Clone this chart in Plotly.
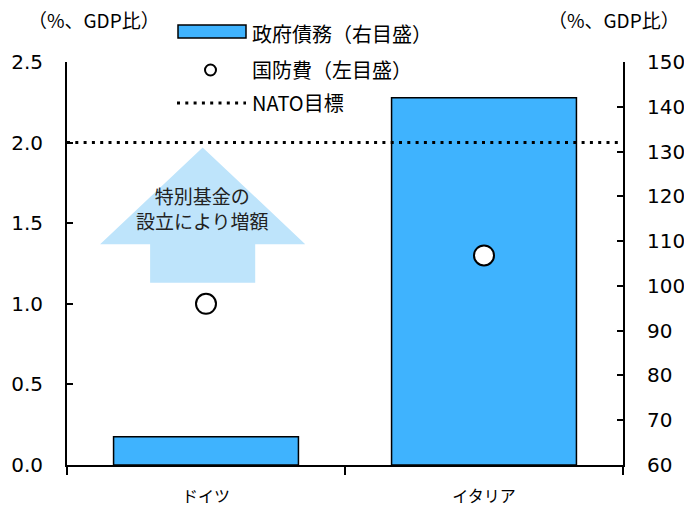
import plotly.graph_objects as go

# Data
countries = ["ドイツ", "イタリア"]
gov_debt = [66.3, 142.0]          # 政府債務 (%, GDP比) — right axis
defense = [1.0, 1.3]              # 国防費 (%, GDP比) — left axis
nato_target = 2.0                 # NATO目標 (%, GDP比)

left_ticks = [0.0, 0.5, 1.0, 1.5, 2.0, 2.5]
right_ticks = [60, 70, 80, 90, 100, 110, 120, 130, 140, 150]

JP = "Noto Sans CJK JP"
NUM = "DejaVu Sans"
BAR_BLUE = "#3FB3FE"
ARROW_BLUE = "#BEE4FB"

xpos = list(range(len(countries)))

fig = go.Figure()

# Government debt bars on the right axis (primary y, drawn underneath)
fig.add_trace(go.Bar(
    x=xpos, y=[d - 60 for d in gov_debt], base=60, width=0.665,
    yaxis="y", marker=dict(color=BAR_BLUE, line=dict(color="black", width=1.5)),
    name="政府債務（右目盛）", showlegend=False,
))

# NATO target line across the plot (left axis)
fig.add_trace(go.Scatter(
    x=[-0.5, 1.5], y=[nato_target, nato_target], mode="lines",
    line=dict(color="black", width=3, dash="3px,5.3px"),
    yaxis="y2", showlegend=False, hoverinfo="skip",
))

# Defense spending markers on the left axis
fig.add_trace(go.Scatter(
    x=xpos, y=defense, mode="markers",
    marker=dict(size=20, color="white", line=dict(color="black", width=2)),
    yaxis="y2", name="国防費（左目盛）", showlegend=False,
))

# Up arrow above the Germany marker (x in category units, y in left-axis units)
ax, y_tip, y_head, y_base = -0.012, 1.97, 1.37, 1.13
half_head, half_shaft = 0.369, 0.189
path = (f"M {ax - half_shaft},{y_base} L {ax - half_shaft},{y_head} "
        f"L {ax - half_head},{y_head} L {ax},{y_tip} L {ax + half_head},{y_head} "
        f"L {ax + half_shaft},{y_head} L {ax + half_shaft},{y_base} Z")
fig.add_shape(type="path", path=path, xref="x", yref="y2",
              fillcolor=ARROW_BLUE, line=dict(width=0), layer="below")
fig.add_annotation(x=ax, y=1.595, xref="x", yref="y2",
                   text="特別基金の<br>設立により増額", showarrow=False,
                   font=dict(family=JP, size=19, color="#222"), align="center")

# Legend drawn in paper coordinates
W, H = 684, 507
ml, mr, mt, mb = 67, 61, 62, 42
pw, ph = W - ml - mr, H - mt - mb

def px(x):
    return (x - ml) / pw

def py(y):
    return (H - mb - y) / ph

fig.add_shape(type="rect", xref="paper", yref="paper",
              x0=px(178), x1=px(246), y0=py(38), y1=py(25),
              fillcolor=BAR_BLUE, line=dict(color="black", width=1.5))
fig.add_shape(type="circle", xref="paper", yref="paper",
              x0=px(205), x1=px(216), y0=py(75.5), y1=py(64.5),
              fillcolor="white", line=dict(color="black", width=2))
fig.add_shape(type="line", xref="paper", yref="paper",
              x0=px(177), x1=px(246), y0=py(103), y1=py(103),
              line=dict(color="black", width=3, dash="3px,5.3px"))
for label, yy in [("政府債務（右目盛）", 33), ("国防費（左目盛）", 70), ("NATO目標", 103)]:
    fig.add_annotation(x=px(250), y=py(yy), xref="paper", yref="paper",
                       text=label, showarrow=False, xanchor="left", yanchor="middle",
                       font=dict(family=JP, size=20, color="black"))

# Axis unit labels
fig.add_annotation(x=px(94), y=py(20), xref="paper", yref="paper",
                   text="（%、GDP比）", showarrow=False, xanchor="center", yanchor="middle",
                   font=dict(family=JP, size=19, color="black"))
fig.add_annotation(x=px(614), y=py(20), xref="paper", yref="paper",
                   text="（%、GDP比）", showarrow=False, xanchor="center", yanchor="middle",
                   font=dict(family=JP, size=19, color="black"))

fig.update_layout(
    width=W, height=H,
    margin=dict(l=ml, r=mr, t=mt, b=mb),
    plot_bgcolor="white", paper_bgcolor="white",
    xaxis=dict(
        range=[-0.5, 1.5], tickvals=xpos, ticktext=countries, automargin=False,
        showline=True, linecolor="black", linewidth=2,
        ticks="", showgrid=False, zeroline=False,
        tickfont=dict(family=JP, size=16, color="black"), ticklabelstandoff=16,
        minor=dict(tickvals=[-0.5, 0.5, 1.5], ticks="outside", ticklen=8,
                   tickwidth=2, tickcolor="black", showgrid=False),
    ),
    yaxis=dict(
        range=[60, 150], tickvals=right_ticks, side="right", automargin=False,
        showline=True, linecolor="black", linewidth=2,
        ticks="inside", ticklen=6, tickwidth=2, tickcolor="black",
        showgrid=False, zeroline=False,
        tickfont=dict(family=NUM, size=20, color="black"), ticklabelstandoff=18,
    ),
    yaxis2=dict(
        range=[0, 2.5], tickvals=left_ticks, ticktext=[f"{v:.1f}" for v in left_ticks],
        overlaying="y", side="left", automargin=False,
        showline=True, linecolor="black", linewidth=2,
        ticks="inside", ticklen=6, tickwidth=2, tickcolor="black",
        showgrid=False, zeroline=False,
        tickfont=dict(family=NUM, size=20, color="black"), ticklabelstandoff=18,
    ),
)

fig.write_html("out.html")
